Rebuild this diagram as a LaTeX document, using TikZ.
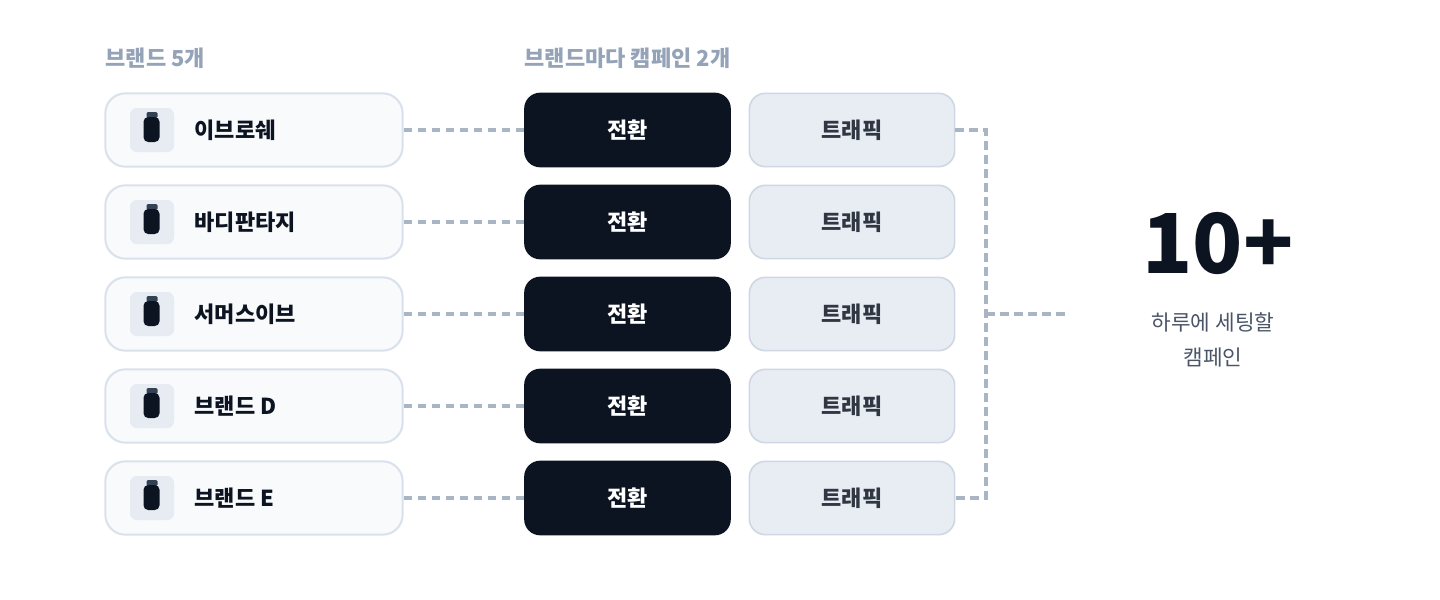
\documentclass[tikz,border=0pt]{standalone}
\usepackage{fontspec}
\setmainfont{Noto Sans CJK KR}
\begin{document}
\definecolor{dark}{HTML}{0D1421}
\definecolor{hdr}{HTML}{94A3B8}
\definecolor{bfill}{HTML}{F8FAFC}
\definecolor{bline}{HTML}{D9E1EC}
\definecolor{tfill}{HTML}{E8EDF4}
\definecolor{tline}{HTML}{CFD7E3}
\definecolor{dash}{HTML}{A9B4C4}
\definecolor{sub}{HTML}{4A5568}
\definecolor{bcap}{HTML}{334155}
\begin{tikzpicture}[x=0.75pt,y=-0.75pt,
 brand/.style={draw=bline,line width=1.5pt,fill=bfill,rounded corners=15pt,minimum width=223pt,minimum height=55pt,inner sep=0pt},
 conv/.style={fill=dark,rounded corners=12pt,minimum width=155pt,minimum height=56pt,inner sep=0pt,text=white,font=\bfseries\fontsize{16.5}{18}\selectfont},
 traf/.style={draw=tline,line width=1.2pt,fill=tfill,rounded corners=12pt,minimum width=154pt,minimum height=55pt,inner sep=0pt,text=dark!85,font=\bfseries\fontsize{16.5}{18}\selectfont},
 lbl/.style={anchor=west,text=dark,font=\bfseries\fontsize{16.5}{18}\selectfont},
 dsh/.style={draw=dash,line width=2.4pt,dash pattern=on 6.5pt off 4pt},
 hd/.style={anchor=west,text=hdr,font=\bfseries\fontsize{16.5}{18}\selectfont}]
\useasboundingbox[fill=white] (0,0) rectangle (1440,600);
\node[hd] (h1) at (101,58) {브랜드 5개};
\node[hd] (h2) at (520,58) {브랜드마다 캠페인 2개};
\foreach \i/\n [count=\k] in {130/이브로쉐,222/바디판타지,314/서머스이브,406/브랜드 D,498/브랜드 E}{
 \node[brand] (b\k) at (254,\i) {};
 \fill[tfill!90!bline,rounded corners=5pt] (130,{\i-22}) rectangle (174,{\i+22});
 \fill[bcap,rounded corners=1pt] (146.5,{\i-18}) rectangle (157.5,{\i-12});
 \fill[dark,rounded corners=3.5pt] (143.5,{\i-13}) rectangle (159.5,{\i+12});
 \node[lbl] (l\k) at (190,\i) {\n};
 \node[conv] (c\k) at (627.5,\i) {전환};
 \node[traf] (t\k) at (852,\i) {트래픽};
 \draw[dsh] (b\k.east) -- (c\k.west);
}
\coordinate (top) at (986,130);
\coordinate (bot) at (986,498);
\coordinate (mid) at (986,314);
\coordinate (end) at (1065,314);
\draw[dsh] (t1.east) -- (top) -- (bot) -- (t5.east);
\draw[dsh] (mid) -- (end);
\node[text=dark,font=\bfseries\fontsize{62}{66}\selectfont] (big) at (1218,243) {10+};
\node[text=sub,font=\fontsize{16}{26}\selectfont,align=center] (s) at (1213,340) {하루에 세팅할\\캠페인};
\end{tikzpicture}
\end{document}
